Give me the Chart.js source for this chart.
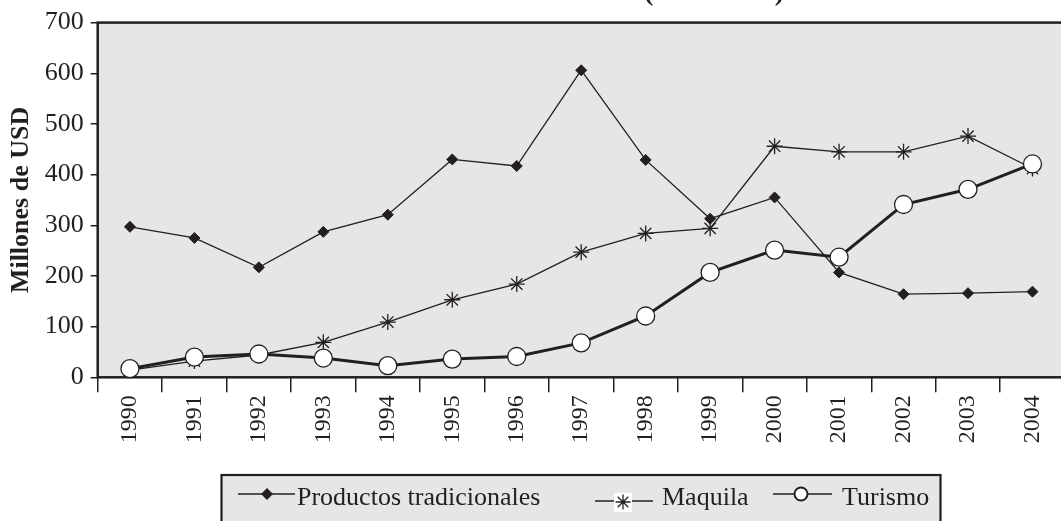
<!DOCTYPE html>
<html>
<head>
<meta charset="utf-8">
<script src="https://cdn.jsdelivr.net/npm/chart.js@4.4.1/dist/chart.umd.min.js"></script>
<style>
  html, body { margin: 0; padding: 0; background: #fff; overflow: hidden; }
  #wrap { position: relative; width: 1075px; height: 521px; }
</style>
</head>
<body>
<div id="wrap"><canvas id="chart" width="1075" height="521"></canvas></div>
<script>
// years on the x axis
const years = ['1990', '1991', '1992', '1993', '1994', '1995', '1996', '1997',
               '1998', '1999', '2000', '2001', '2002', '2003', '2004'];

// Millones de USD
const productosTradicionales = [297, 275, 217, 287, 321, 430, 417, 606, 429, 313, 355, 207, 164, 166, 169];
const maquila = [14, 32, 44, 69, 109, 153, 184, 247, 284, 294, 456, 445, 445, 476, 412];
const turismo = [17, 40, 46, 38, 23, 36, 41, 68, 121, 207, 251, 237, 341, 371, 421];

const yTicks = [0, 100, 200, 300, 400, 500, 600, 700];

const INK = '#231f20';
const PLOT_BG = '#e6e6e6';
const SERIF = '"Liberation Serif", "Times New Roman", serif';

// plot background + frame (top, left, bottom)
const plotFrame = {
  id: 'plotFrame',
  beforeDraw(chart) {
    const { ctx, chartArea: a } = chart;
    ctx.save();
    ctx.fillStyle = PLOT_BG;
    ctx.fillRect(a.left, a.top, a.right - a.left, a.bottom - a.top);
    ctx.restore();
  },
  beforeDatasetsDraw(chart) {
    const { ctx, chartArea: a } = chart;
    ctx.save();
    ctx.strokeStyle = INK;
    ctx.lineWidth = 2.5;
    ctx.strokeRect(a.left, a.top, a.right - a.left, a.bottom - a.top);
    ctx.restore();
  }
};

// title sits mostly above the visible area, only the bottom of it shows
const clippedTitle = {
  id: 'clippedTitle',
  afterDraw(chart) {
    const ctx = chart.ctx;
    ctx.save();
    ctx.fillStyle = INK;
    ctx.font = 'bold 28px ' + SERIF;
    ctx.textAlign = 'center';
    ctx.textBaseline = 'alphabetic';
    ctx.fillText('(1990-2004)', 714, 0);
    ctx.restore();
  }
};

// boxed legend below the axis labels
const boxLegend = {
  id: 'boxLegend',
  afterDraw(chart) {
    const ctx = chart.ctx;
    const drawPoint = Chart.helpers.drawPoint;
    ctx.save();
    ctx.fillStyle = PLOT_BG;
    ctx.fillRect(221.5, 475, 719, 60);
    ctx.strokeStyle = INK;
    ctx.lineWidth = 2.2;
    ctx.strokeRect(221.5, 475, 719, 60);

    ctx.lineWidth = 1.4;
    // Productos tradicionales
    ctx.beginPath(); ctx.moveTo(238, 494); ctx.lineTo(295, 494); ctx.stroke();
    ctx.fillStyle = INK;
    drawPoint(ctx, { pointStyle: 'rectRot', radius: 5, rotation: 0, borderWidth: 1 }, 267, 494);

    // Maquila (white box behind the star, drawn a bit lower)
    ctx.beginPath(); ctx.moveTo(595, 501); ctx.lineTo(653, 501); ctx.stroke();
    ctx.fillStyle = '#fff';
    ctx.fillRect(614, 493, 18, 19);
    ctx.strokeStyle = INK;
    ctx.lineWidth = 1.3;
    drawPoint(ctx, { pointStyle: 'star', radius: 7.5, rotation: 0, borderWidth: 1.3 }, 623, 502);

    // Turismo
    ctx.lineWidth = 1.4;
    ctx.beginPath(); ctx.moveTo(773, 494); ctx.lineTo(832, 494); ctx.stroke();
    ctx.fillStyle = '#fff';
    ctx.lineWidth = 2;
    drawPoint(ctx, { pointStyle: 'circle', radius: 6.5, rotation: 0, borderWidth: 2 }, 801, 494);

    ctx.fillStyle = INK;
    ctx.font = '26px ' + SERIF;
    ctx.textBaseline = 'alphabetic';
    ctx.textAlign = 'left';
    ctx.fillText('Productos tradicionales', 297, 505);
    ctx.fillText('Maquila', 662, 505);
    ctx.fillText('Turismo', 842, 505);
    ctx.restore();
  }
};

new Chart(document.getElementById('chart'), {
  type: 'line',
  data: {
    labels: years,
    datasets: [
      {
        label: 'Productos tradicionales',
        data: productosTradicionales,
        borderColor: INK,
        borderWidth: 1.3,
        pointStyle: 'rectRot',
        pointRadius: 5.5,
        pointBackgroundColor: INK,
        pointBorderColor: INK,
        pointBorderWidth: 1,
        tension: 0,
        clip: false,
        order: 3
      },
      {
        label: 'Maquila',
        data: maquila,
        borderColor: INK,
        borderWidth: 1.3,
        pointStyle: 'star',
        pointRadius: 8,
        pointBorderColor: INK,
        pointBorderWidth: 1.3,
        tension: 0,
        clip: false,
        order: 2
      },
      {
        label: 'Turismo',
        data: turismo,
        borderColor: INK,
        borderWidth: 3,
        pointStyle: 'circle',
        pointRadius: 9,
        pointBackgroundColor: '#fff',
        pointBorderColor: INK,
        pointBorderWidth: 1.3,
        tension: 0,
        clip: false,
        order: 1
      }
    ]
  },
  options: {
    responsive: false,
    animation: false,
    events: [],
    layout: { padding: { top: 21.7, right: 1, left: 0, bottom: 0 } },
    plugins: {
      legend: { display: false },
      tooltip: { enabled: false },
      title: { display: false }
    },
    scales: {
      x: {
        offset: true,
        border: { display: false },
        grid: {
          offset: true,
          drawOnChartArea: false,
          drawTicks: true,
          tickLength: 15,
          color: INK,
          lineWidth: 1.5
        },
        ticks: {
          autoSkip: false,
          minRotation: 90,
          maxRotation: 90,
          padding: 3,
          color: INK,
          font: { family: SERIF, size: 24 }
        },
        afterFit(scale) { scale.height = 143.7; }
      },
      y: {
        min: yTicks[0],
        max: yTicks[yTicks.length - 1],
        border: { display: false },
        grid: {
          drawOnChartArea: false,
          drawTicks: true,
          tickLength: 7,
          color: INK,
          lineWidth: 1.5
        },
        afterBuildTicks(scale) { scale.ticks = yTicks.map(v => ({ value: v })); },
        ticks: {
          padding: 7,
          color: INK,
          font: { family: SERIF, size: 26 }
        },
        title: {
          display: true,
          text: 'Millones de USD',
          color: INK,
          font: { family: SERIF, size: 26, weight: 'bold' },
          padding: { top: 6, bottom: 0 }
        },
        afterFit(scale) { scale.width = 97.7; }
      }
    }
  },
  plugins: [plotFrame, boxLegend, clippedTitle]
});
</script>
</body>
</html>
